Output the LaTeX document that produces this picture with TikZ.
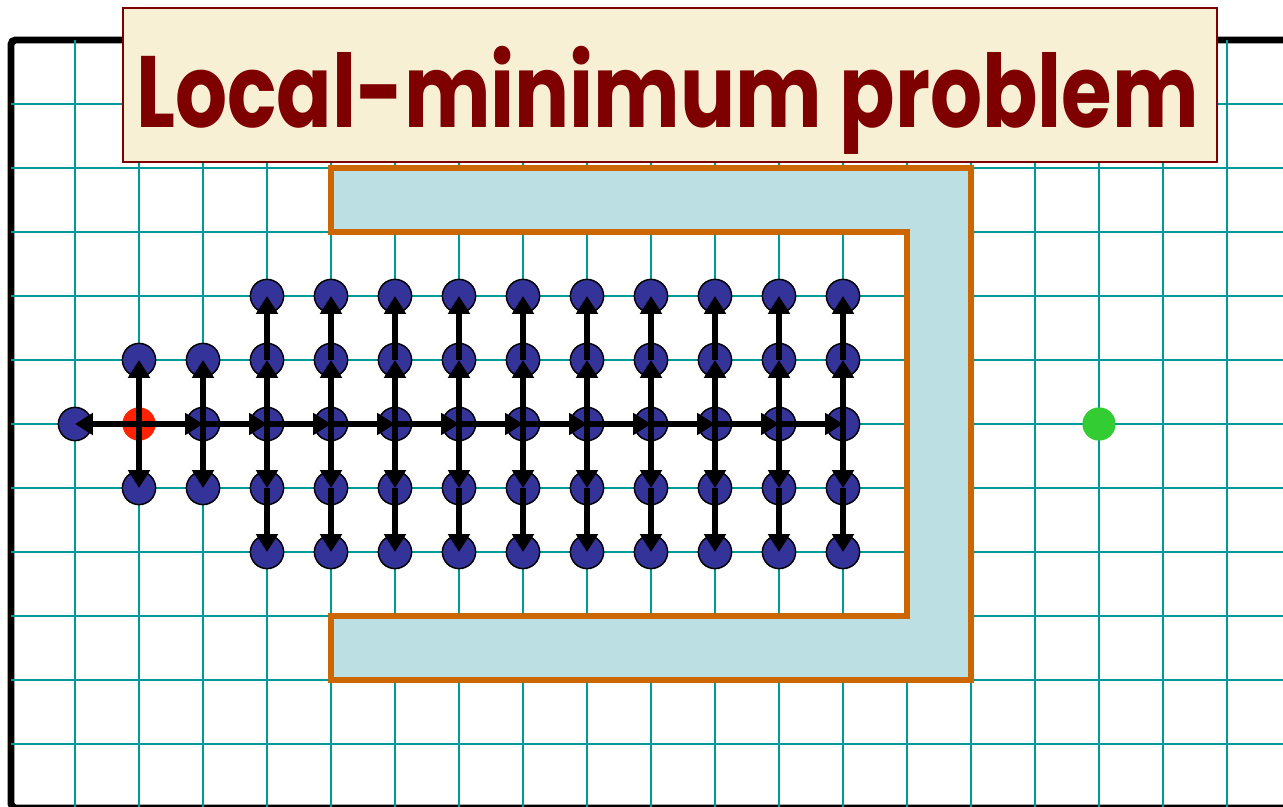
\documentclass[tikz,border=0pt]{standalone}
\usepackage{fontspec}
\usepackage{graphicx}
\newfontfamily\titlefont{Poppins}
\usetikzlibrary{arrows.meta}
\definecolor{gridteal}{HTML}{009999}
\definecolor{cellblue}{HTML}{333399}
\definecolor{wallfill}{HTML}{BBDFE2}
\definecolor{wallline}{HTML}{CC6600}
\definecolor{titlered}{HTML}{7F0000}
\definecolor{titlefill}{HTML}{F8F0D5}
\definecolor{startred}{HTML}{FF2200}
\definecolor{goalgreen}{HTML}{33CC33}
\tikzset{
  gridline/.style={gridteal,line width=0.9pt},
  cell/.style={circle,draw=black,line width=0.65pt,fill=cellblue,minimum size=0.52cm,inner sep=0pt},
  move/.style={-{Triangle[length=8pt,width=9.5pt]},line width=2.4pt},
}
\begin{document}
\begin{tikzpicture}
				\useasboundingbox (-0.171875,0.03125) rectangle (19.875,12.625);
				\fill[white] (-0.171875,0.03125) rectangle (19.875,12.625);
				\draw[line width=3.1pt,rounded corners=2pt] (20.5,0) -- (0,0) -- (0,12) -- (20.5,12);
				\foreach \y in {1,...,11} \draw[gridline] (0,\y) -- (20.5,\y);
				\foreach \x in {1,...,19} \draw[gridline] (\x,12) -- (\x,0);

				% the wall
				\draw[line width=2.7pt,wallline,fill=wallfill] (5,10) -- (15,10) -- (15,2) -- (5,2) -- (5,3) -- (14,3) -- (14,9) -- (5,9) -- cycle;

				\node[draw=titlered,line width=0.9pt,fill=titlefill,minimum width=17.09cm,minimum height=2.41cm] (title) at (10.295,11.295) {};
				\node[anchor=base,inner sep=0pt,text=titlered] (label) at (10.26,10.64) {\scalebox{1}[1.24]{\resizebox{16.6cm}{!}{\titlefont\bfseries Local-minimum problem}}};

				% expanded cells
				\foreach \x/\y in {1/6, 2/7, 2/5, 3/7, 3/6, 3/5} \node[cell] (n-\x-\y) at (\x,\y) {};
				\foreach \x in {4,...,13} \foreach \y in {4,...,8} \node[cell] (n-\x-\y) at (\x,\y) {};
				\node[circle,fill=startred,minimum size=0.52cm,inner sep=0pt] (n-2-6) at (2,6) {};
				\node[circle,fill=goalgreen,minimum size=0.52cm,inner sep=0pt] (goal) at (17,6) {};

				\draw[move] (n-2-6.center) -- (n-1-6.center);
				\draw[move] (n-2-6.center) -- (n-2-7.center);
				\draw[move] (n-2-6.center) -- (n-2-5.center);
				\draw[move] (n-2-6.center) -- (n-3-6.center);
				\draw[move] (n-3-6.center) -- (n-3-7.center);
				\draw[move] (n-3-6.center) -- (n-3-5.center);
				\foreach \x [evaluate=\x as \nx using int(\x+1)] in {3,...,12}
					\draw[move] (n-\x-6.center) -- (n-\nx-6.center);
				\foreach \x in {4,...,13} {
					\draw[move] (n-\x-6.center) -- (n-\x-7.center);
					\draw[move] (n-\x-7.center) -- (n-\x-8.center);
					\draw[move] (n-\x-6.center) -- (n-\x-5.center);
					\draw[move] (n-\x-5.center) -- (n-\x-4.center);
				}

			\end{tikzpicture}
\end{document}
